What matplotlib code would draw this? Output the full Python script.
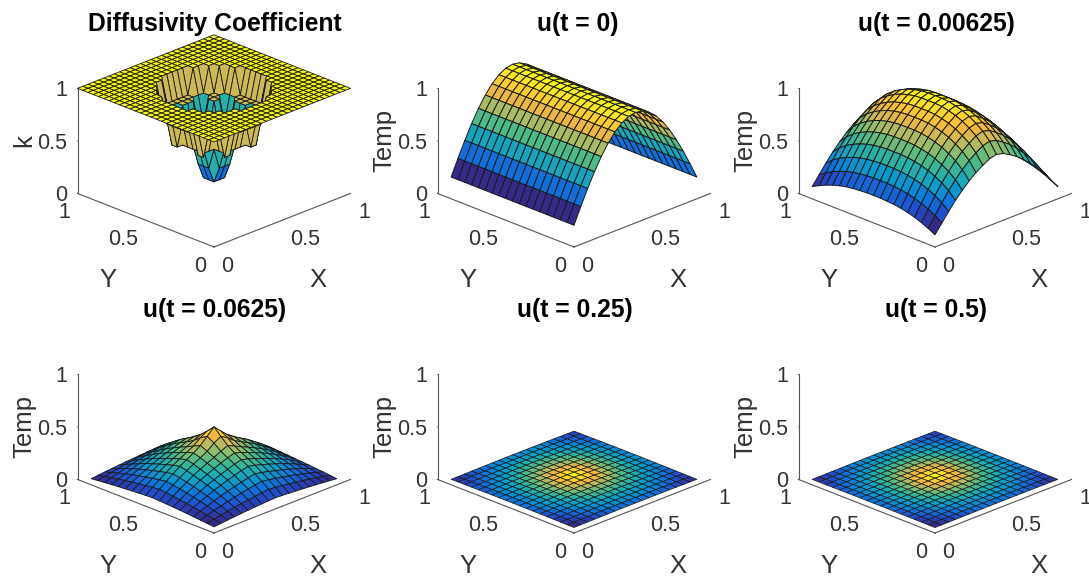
#!/usr/bin/env python3
# diffusivity coefficient + heat equation snapshots, 2x3 surf plots
import numpy as np
import matplotlib
matplotlib.use("Agg")
import matplotlib.pyplot as plt
from matplotlib.colors import LinearSegmentedColormap
from mpl_toolkits.mplot3d import proj3d

plt.rcParams['font.family'] = ['Liberation Sans', 'DejaVu Sans']

W, H = 1089, 576

titles = ['Diffusivity Coefficient', 'u(t = 0)', 'u(t = 0.00625)',
          'u(t = 0.0625)', 'u(t = 0.25)', 'u(t = 0.5)']
zlabels = ['k', 'Temp', 'Temp', 'Temp', 'Temp', 'Temp']
tick_vals = [0, 0.5, 1]
tick_text = ['0', '0.5', '1']

# nodes of the temperature grid (interior nodes only)
u_nodes = [0.05, 0.10, 0.15, 0.20, 0.25, 0.30, 0.35, 0.40, 0.45, 0.50,
           0.55, 0.60, 0.65, 0.70, 0.75, 0.80, 0.85, 0.90, 0.95]

# half profiles, edge -> centre (mirrored below)
u0_x = [0.156, 0.309, 0.454, 0.588, 0.707, 0.809, 0.891, 0.951, 0.988, 1.0]
u0_y = [1.0, 1.0, 1.0, 1.0, 1.0, 1.0, 1.0, 1.0, 1.0, 1.0]

# t = 0.00625: height along the x=0.05 edge and along the x=0.5 ridge, plus the mix between them
u1_edge = [0.065, 0.10, 0.13, 0.155, 0.175, 0.19, 0.20, 0.205, 0.21, 0.21]
u1_ridge = [0.60, 0.70, 0.77, 0.82, 0.86, 0.89, 0.91, 0.925, 0.93, 0.93]
u1_mix = [0.0, 0.16, 0.32, 0.47, 0.60, 0.72, 0.82, 0.90, 0.97, 1.0]

u2_x = [0.13, 0.26, 0.38, 0.49, 0.60, 0.69, 0.78, 0.86, 0.94, 1.0]
u2_y = [0.13, 0.26, 0.38, 0.49, 0.60, 0.69, 0.78, 0.86, 0.94, 1.0]
# little bump on top of the t = 0.0625 surface, last 3 nodes before the centre
u2_bump = [[0.0, 0.004, 0.012],
           [0.004, 0.025, 0.04],
           [0.012, 0.04, 0.08]]

# late times: one quadrant of the (relative) surface, centre first
late_quadrant = [
    [1.00, 0.93, 0.82, 0.71, 0.61, 0.53, 0.44, 0.36, 0.30, 0.25],
    [0.93, 0.88, 0.80, 0.69, 0.60, 0.52, 0.43, 0.355, 0.31, 0.245],
    [0.82, 0.80, 0.74, 0.66, 0.57, 0.49, 0.42, 0.35, 0.305, 0.235],
    [0.71, 0.69, 0.66, 0.60, 0.53, 0.47, 0.39, 0.335, 0.29, 0.23],
    [0.61, 0.60, 0.57, 0.53, 0.47, 0.42, 0.35, 0.31, 0.275, 0.20],
    [0.53, 0.52, 0.49, 0.47, 0.42, 0.355, 0.33, 0.28, 0.235, 0.18],
    [0.44, 0.43, 0.42, 0.39, 0.35, 0.33, 0.29, 0.245, 0.20, 0.15],
    [0.36, 0.355, 0.35, 0.335, 0.31, 0.28, 0.245, 0.20, 0.16, 0.115],
    [0.30, 0.31, 0.305, 0.29, 0.275, 0.235, 0.20, 0.16, 0.12, 0.09],
    [0.25, 0.245, 0.235, 0.23, 0.20, 0.18, 0.15, 0.115, 0.09, 0.06],
]
u_peak = [1.0, 1.0, 0.42, 0.02, 0.012]

# k grid, flat 1 except for the well. one quadrant of the well, centre first
k_cells = 26
k_quadrant = [
    [0.15, 0.15, 0.30, 0.50, 0.50, 0.76, 0.76, 0.76, 1.0],
    [0.15, 0.15, 0.30, 0.50, 0.50, 0.76, 0.76, 0.76, 1.0],
    [0.30, 0.30, 0.50, 0.50, 0.50, 0.50, 0.76, 0.76, 1.0],
    [0.50, 0.50, 0.50, 0.76, 0.76, 0.50, 0.76, 1.00, 1.0],
    [0.50, 0.50, 0.50, 0.76, 0.76, 0.76, 0.76, 1.00, 1.0],
    [0.76, 0.76, 0.50, 0.50, 0.76, 0.76, 1.00, 1.00, 1.0],
    [0.76, 0.76, 0.76, 0.76, 0.76, 1.00, 1.00, 1.00, 1.0],
    [0.76, 0.76, 0.76, 1.00, 1.00, 1.00, 1.00, 1.00, 1.0],
    [1.00, 1.00, 1.00, 1.00, 1.00, 1.00, 1.00, 1.00, 1.0],
]

# parula-ish, taken from the facets
parula_colors = ['#35298a', '#1f4fd0', '#0d77dc', '#0b9bcb', '#20aeae', '#45b98c',
                 '#85bd70', '#c6b95c', '#f5b73e', '#fdd62a', '#f9fb0e']
parula = LinearSegmentedColormap.from_list('parula', parula_colors)

# px positions of the (0,0,0) corner for each panel
origins = [(214, 247), (574, 247), (935, 247), (214, 533), (574, 533), (935, 533)]
title_pos = [(215, 24), (578, 24), (936, 24), (215, 310), (575, 310), (936, 310)]
X_SPAN = 273  # px from (x=0,y=1) to (x=1,y=0)


def mirror(half):
    return np.array(list(half) + list(half[-2::-1]))


def expand(quadrant):
    # centre-first quadrant -> full square, centre in the middle
    q = np.array(quadrant)
    top = np.hstack([q[:, :0:-1], q])
    return np.vstack([top[:0:-1], top])


def project(ax, x, y, z):
    vx, vy, _ = proj3d.proj_transform(x, y, z, ax.get_proj())
    return ax.transData.transform((vx, vy))


def place(ax, origin):
    # resize + move the axes so that the box corners land on the wanted pixels
    fig.canvas.draw()
    a = project(ax, 0, 1, 0)
    b = project(ax, 1, 0, 0)
    pos = ax.get_position()
    f = X_SPAN / (b[0] - a[0])
    ax.set_position([pos.x0, pos.y0, pos.width * f, pos.height * f])
    fig.canvas.draw()
    o = project(ax, 0, 0, 0)
    pos = ax.get_position()
    dx = (origin[0] - o[0]) / W
    dy = ((H - origin[1]) - o[1]) / H
    ax.set_position([pos.x0 + dx, pos.y0 + dy, pos.width, pos.height])


def panel(i, x, y, z, lw):
    ax = fig.add_axes([0.1, 0.1, 400 / W, 400 / H], projection='3d')
    ax.patch.set_alpha(0)
    ax.set_proj_type('ortho')
    ax.view_init(elev=23.1, azim=-135)
    ax.set_box_aspect((1, 1, 0.592))

    xx, yy = np.meshgrid(x, y)
    zmin, zmax = z.min(), z.max()
    colors = parula((z - zmin) / (zmax - zmin))
    # first vertex gives the face colour, same as surf
    ax.plot_surface(xx, yy, z, facecolors=colors, rstride=1, cstride=1, shade=False,
                    edgecolor='#1a1a1a', linewidth=lw, antialiased=True)

    ax.set_xlim(0, 1, view_margin=0)
    ax.set_ylim(0, 1, view_margin=0)
    ax.set_zlim(0, 1, view_margin=0)
    ax.grid(False)
    for axis in (ax.xaxis, ax.yaxis, ax.zaxis):
        axis.set_pane_color((1, 1, 1, 0))
        axis.pane.set_edgecolor('none')
        axis.line.set_color('#555555')
        axis.line.set_linewidth(0.8)
        axis._axinfo['tick']['inward_factor'] = 0.02
        axis._axinfo['tick']['outward_factor'] = 0.0
        axis._axinfo['tick']['linewidth'] = {True: 0.6, False: 0.6}
        axis._axinfo['tick']['color'] = '#555555'
    ax.set_xticks(tick_vals, tick_text)
    ax.set_yticks(tick_vals, tick_text)
    ax.set_zticks(tick_vals, tick_text)
    ax.tick_params(axis='both', labelsize=15.5, labelcolor='#333333', pad=-2, color='#555555')
    ax.tick_params(axis='z', labelsize=15.5, labelcolor='#333333', pad=-4)
    for t in ax.xaxis.get_major_ticks():
        t.label1.set_ha('left')
    for t in ax.yaxis.get_major_ticks():
        t.label1.set_ha('right')
    for t in ax.zaxis.get_major_ticks():
        t.label1.set_ha('right')
        t.label1.set_va('center_baseline')
    ax.set_zlabel(zlabels[i], fontsize=18.5, color='#333333', labelpad=0)
    ax.zaxis.set_rotate_label(False)
    ax.zaxis.label.set_rotation(90)
    place(ax, origins[i])
    ox, oy = origins[i]
    fig.text(title_pos[i][0] / W, 1 - title_pos[i][1] / H, titles[i], ha='center', va='center',
             fontsize=17.7, fontweight='bold', color='black')
    # X / Y sit under the tick labels, easier to pin them by pixel
    fig.text((ox + 104) / W, 1 - (oy + 33) / H, 'X', ha='center', va='center', fontsize=18.5, color='#333333')
    fig.text((ox - 106) / W, 1 - (oy + 33) / H, 'Y', ha='center', va='center', fontsize=18.5, color='#333333')
    return ax


fig = plt.figure(figsize=(W / 100, H / 100), dpi=100, facecolor='white')

# k surface
k_nodes = np.arange(k_cells + 1) / k_cells
k = np.ones((k_cells + 1, k_cells + 1))
c = k_cells // 2
for j, row in enumerate(k_quadrant):
    for m, val in enumerate(row):
        k[c + j, c + m] = k[c + j, c - m] = k[c - j, c + m] = k[c - j, c - m] = val
panel(0, k_nodes, k_nodes, k, 0.6)

nodes = np.array(u_nodes)

# t = 0
panel(1, nodes, nodes, u_peak[0] * np.outer(mirror(u0_y), mirror(u0_x)), 0.7)

# t = 0.00625
edge = mirror(u1_edge)
ridge = mirror(u1_ridge)
panel(2, nodes, nodes, u_peak[1] * (np.outer(edge, np.ones(19)) + np.outer(ridge - edge, mirror(u1_mix))), 0.7)

# t = 0.0625
z2 = u_peak[2] * np.outer(mirror(u2_y), mirror(u2_x))
for a in range(3):
    for b in range(3):
        for ia in {7 + a, 11 - a}:
            for ib in {7 + b, 11 - b}:
                z2[ia, ib] += u2_bump[a][b]
panel(3, nodes, nodes, z2, 0.6)

# late times, nearly flat
panel(4, nodes, nodes, u_peak[3] * expand(late_quadrant), 0.5)
panel(5, nodes, nodes, u_peak[4] * expand(late_quadrant), 0.5)

fig.savefig('out.png', dpi=100)
